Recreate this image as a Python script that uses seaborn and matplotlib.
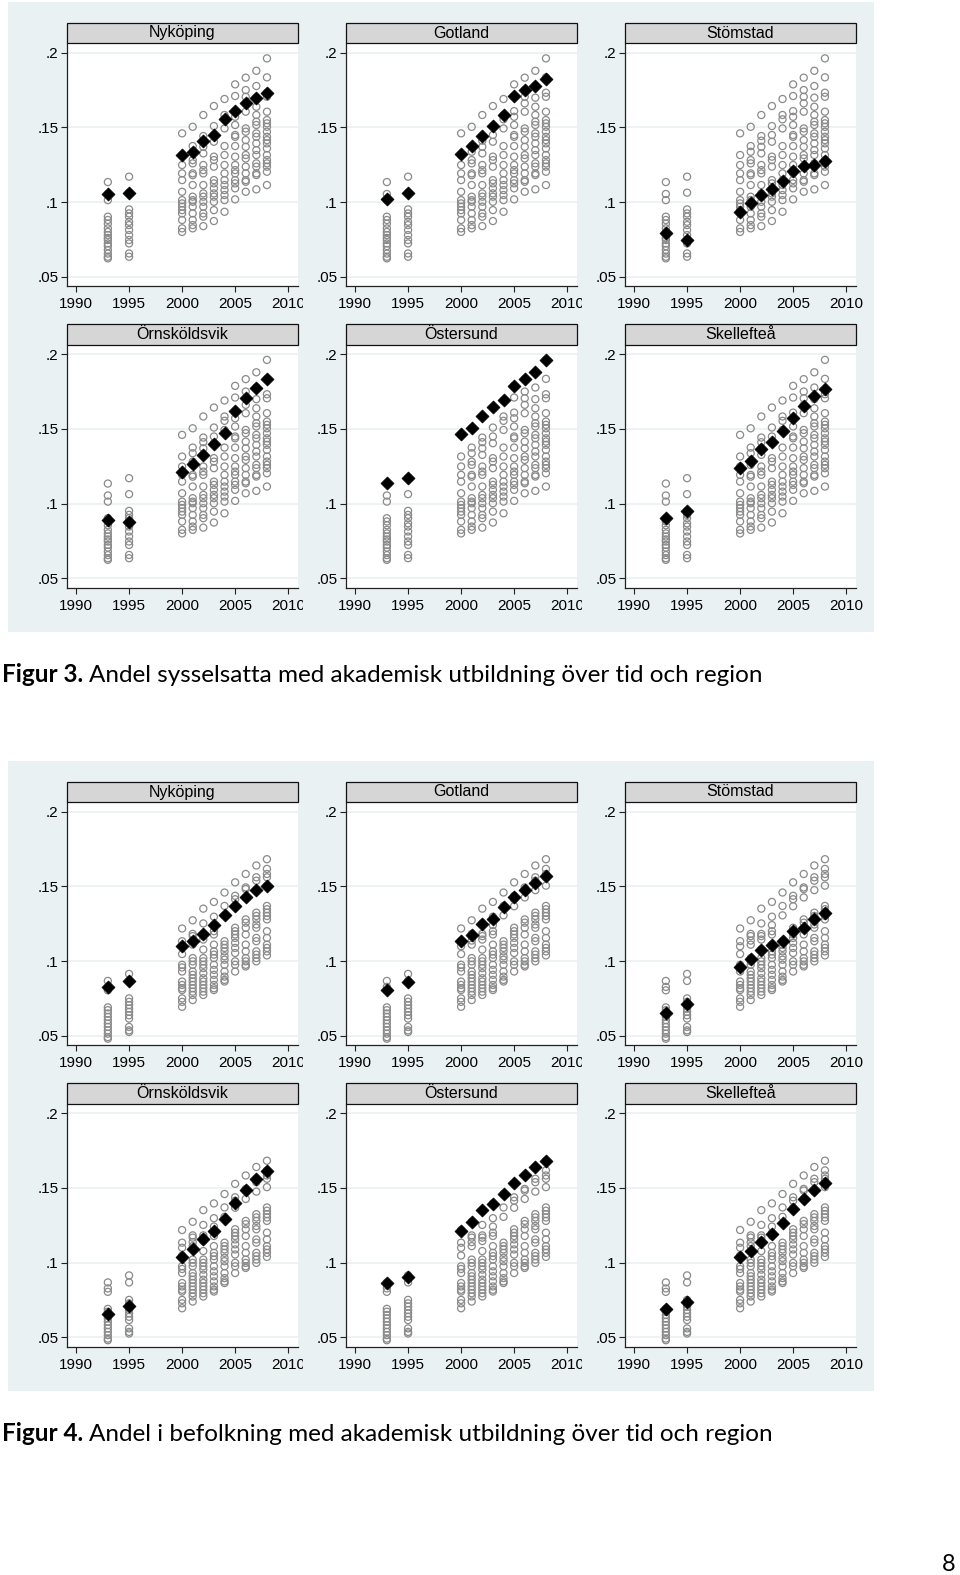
import matplotlib
matplotlib.use("Agg")
import matplotlib.pyplot as plt
import pandas as pd
import seaborn as sns
from matplotlib.patches import Rectangle
from matplotlib.ticker import FuncFormatter
from matplotlib.transforms import Bbox, TransformedBbox

plt.rcParams['font.family'] = ['Liberation Sans', 'DejaVu Sans']

years = [1993, 1995, 2000, 2001, 2002, 2003, 2004, 2005, 2006, 2007, 2008]
regions = ["Nyköping", "Gotland", "Stömstad", "Örnsköldsvik", "Östersund", "Skellefteå"]

# Figur 3: andel sysselsatta med akademisk utbildning, övriga regioner (cirklar)
sys_1993 = [0.1134, 0.1013, 0.0902, 0.0880, 0.0855, 0.0824, 0.0800, 0.0779, 0.0760, 0.0746,
            0.0723, 0.0705, 0.0679, 0.0655, 0.0634, 0.0623]
sys_1995 = [0.1170, 0.0951, 0.0924, 0.0902, 0.0868, 0.0846, 0.0813, 0.0779, 0.0746, 0.0723,
            0.0656, 0.0634]
sys_2000 = [0.1460, 0.1248, 0.1192, 0.1147, 0.1069, 0.1013, 0.0991, 0.0969, 0.0946, 0.0924,
            0.0880, 0.0824, 0.0800]
sys_2001 = [0.1504, 0.1375, 0.1281, 0.1259, 0.1192, 0.1180, 0.1114, 0.1036, 0.1013, 0.1002,
            0.0969, 0.0924, 0.0880, 0.0846, 0.0824]
sys_2002 = [0.1583, 0.1442, 0.1370, 0.1326, 0.1248, 0.1214, 0.1192, 0.1114, 0.1058, 0.1036,
            0.1002, 0.0969, 0.0924, 0.0902, 0.0839]
sys_2003 = [0.1643, 0.1509, 0.1404, 0.1304, 0.1281, 0.1237, 0.1147, 0.1125, 0.1092, 0.1058,
            0.1036, 0.1002, 0.0946, 0.0873]
sys_2004 = [0.1690, 0.1583, 0.1493, 0.1375, 0.1315, 0.1248, 0.1192, 0.1147, 0.1114, 0.1080,
            0.1047, 0.1013, 0.0935]
sys_2005 = [0.1788, 0.1710, 0.1571, 0.1516, 0.1449, 0.1437, 0.1375, 0.1304, 0.1248, 0.1214,
            0.1192, 0.1147, 0.1125, 0.1092, 0.1018]
sys_2006 = [0.1833, 0.1750, 0.1705, 0.1605, 0.1493, 0.1471, 0.1415, 0.1370, 0.1315, 0.1292,
            0.1237, 0.1192, 0.1147, 0.1136, 0.1069]
sys_2007 = [0.1879, 0.1777, 0.1638, 0.1583, 0.1538, 0.1516, 0.1460, 0.1437, 0.1393, 0.1348,
            0.1315, 0.1259, 0.1237, 0.1192, 0.1181, 0.1085]
sys_2008 = [0.1962, 0.1835, 0.1705, 0.1605, 0.1549, 0.1527, 0.1504, 0.1471, 0.1437, 0.1415,
            0.1393, 0.1359, 0.1315, 0.1281, 0.1259, 0.1237, 0.1203, 0.1114]

# Figur 3: markerade regioner (romber)
sys_nykoping = [0.1054, 0.1063, 0.1315, 0.1337, 0.1411, 0.1449, 0.1554, 0.1609, 0.1661, 0.1699, 0.1732]
sys_gotland = [0.1018, 0.1062, 0.1322, 0.1373, 0.1444, 0.1511, 0.1580, 0.1707, 0.1751, 0.1778, 0.1827]
sys_stomstad = [0.0791, 0.0747, 0.0936, 0.0991, 0.1047, 0.1089, 0.1140, 0.1207, 0.1244, 0.1249, 0.1278]
sys_ornskoldsvik = [0.0888, 0.0875, 0.1208, 0.1263, 0.1324, 0.1402, 0.1473, 0.1620, 0.1710, 0.1777, 0.1837]
sys_ostersund = [0.1141, 0.1170, 0.1464, 0.1504, 0.1587, 0.1645, 0.1692, 0.1788, 0.1833, 0.1884, 0.1964]
sys_skelleftea = [0.0906, 0.0949, 0.1241, 0.1286, 0.1364, 0.1413, 0.1487, 0.1576, 0.1654, 0.1717, 0.1766]

# Figur 4: andel i befolkningen med akademisk utbildning, övriga regioner (cirklar)
bef_1993 = [0.0867, 0.0804, 0.0690, 0.0671, 0.0649, 0.0626, 0.0604, 0.0581, 0.0559, 0.0536,
            0.0514, 0.0491, 0.0480]
bef_1995 = [0.0914, 0.0750, 0.0727, 0.0705, 0.0682, 0.0660, 0.0637, 0.0615, 0.0559, 0.0536, 0.0525]
bef_2000 = [0.1218, 0.1133, 0.1047, 0.0975, 0.0957, 0.0930, 0.0863, 0.0840, 0.0818, 0.0806,
            0.0750, 0.0727, 0.0694]
bef_2001 = [0.1273, 0.1182, 0.1167, 0.1110, 0.1020, 0.0998, 0.0975, 0.0930, 0.0908, 0.0885,
            0.0863, 0.0840, 0.0818, 0.0795, 0.0773, 0.0739]
bef_2002 = [0.1351, 0.1252, 0.1167, 0.1144, 0.1077, 0.1020, 0.0998, 0.0975, 0.0953, 0.0919,
            0.0885, 0.0863, 0.0840, 0.0818, 0.0795, 0.0773]
bef_2003 = [0.1396, 0.1297, 0.1200, 0.1178, 0.1110, 0.1065, 0.1043, 0.1020, 0.0975, 0.0941,
            0.0908, 0.0874, 0.0840, 0.0818, 0.0806]
bef_2004 = [0.1459, 0.1369, 0.1133, 0.1110, 0.1088, 0.1065, 0.1032, 0.1009, 0.0975, 0.0930,
            0.0896, 0.0874, 0.0863]
bef_2005 = [0.1527, 0.1437, 0.1414, 0.1223, 0.1200, 0.1178, 0.1155, 0.1122, 0.1088, 0.1054,
            0.0998, 0.0975, 0.0930]
bef_2006 = [0.1583, 0.1493, 0.1482, 0.1279, 0.1257, 0.1223, 0.1178, 0.1110, 0.1065, 0.1020,
            0.0998, 0.0975, 0.0964]
bef_2007 = [0.1640, 0.1561, 0.1538, 0.1324, 0.1302, 0.1279, 0.1245, 0.1223, 0.1155, 0.1133,
            0.1065, 0.1043, 0.1020, 0.0998]
bef_2008 = [0.1682, 0.1617, 0.1583, 0.1561, 0.1369, 0.1347, 0.1324, 0.1302, 0.1279, 0.1200,
            0.1155, 0.1110, 0.1088, 0.1065, 0.1038]

# Figur 4: markerade regioner (romber)
bef_nykoping = [0.0827, 0.0867, 0.1099, 0.1137, 0.1182, 0.1241, 0.1306, 0.1367, 0.1426, 0.1475, 0.1505]
bef_gotland = [0.0804, 0.0860, 0.1131, 0.1176, 0.1248, 0.1284, 0.1363, 0.1431, 0.1476, 0.1521, 0.1571]
bef_stomstad = [0.0652, 0.0713, 0.0962, 0.1014, 0.1074, 0.1108, 0.1131, 0.1199, 0.1221, 0.1284, 0.1323]
bef_ornskoldsvik = [0.0657, 0.0709, 0.1039, 0.1093, 0.1159, 0.1211, 0.1295, 0.1402, 0.1489, 0.1561, 0.1611]
bef_ostersund = [0.0861, 0.0902, 0.1214, 0.1270, 0.1350, 0.1395, 0.1459, 0.1530, 0.1589, 0.1641, 0.1682]
bef_skelleftea = [0.0686, 0.0739, 0.1034, 0.1075, 0.1136, 0.1189, 0.1266, 0.1357, 0.1425, 0.1489, 0.1530]

W, H = 960, 1575
BG = '#EAF1F3'


def fx(x):
    return x / W


def fy(y):
    return 1 - y / H


def long_frame(columns):
    rows = []
    for year, values in zip(years, columns):
        for v in values:
            rows.append((year, v))
    return pd.DataFrame(rows, columns=['year', 'value'])


def draw_block(fig, top, others, highlights):
    # light blue graph region behind the six panels
    fig.add_artist(Rectangle((fx(8), fy(top + 630)), 866 / W, 630 / H,
                             transform=fig.transFigure, fc=BG, ec='none', zorder=0))
    # all regions = the others + the first highlighted one (hidden under its diamond)
    background = pd.concat([long_frame(others),
                            pd.DataFrame({'year': years, 'value': highlights[0]})])
    for i, (name, series) in enumerate(zip(regions, highlights)):
        r, c = divmod(i, 3)
        x0 = 66.7 + 279 * c
        x1 = x0 + 231
        yt = top + 41.3 + 301.5 * r
        yb = top + 284 + 301.5 * r
        ax = fig.add_axes([fx(x0), fy(yb), (x1 - x0) / W, (yb - yt) / H])
        ax.set_facecolor('white')

        sns.scatterplot(data=background, x='year', y='value', ax=ax, marker='o', s=26,
                        facecolor='none', edgecolor='#8a8a8a', linewidth=0.9,
                        legend=False, zorder=2)
        hl = pd.DataFrame({'year': years, 'value': series})
        sns.scatterplot(data=hl, x='year', y='value', ax=ax, marker='D', s=44,
                        color='black', edgecolor='black', linewidth=0.5,
                        legend=False, zorder=3)

        ax.set_xlim(1989.12, 2010.9)
        ax.set_ylim(0.0438, 0.2063)
        ax.set_xticks([1990, 1995, 2000, 2005, 2010])
        ax.set_yticks([0.05, 0.1, 0.15, 0.2])
        ax.yaxis.set_major_formatter(FuncFormatter(lambda v, p: f"{v:g}".lstrip('0')))
        ax.set_xlabel('')
        ax.set_ylabel('')
        ax.yaxis.grid(True, color=BG, lw=1.2)
        ax.set_axisbelow(True)
        for s in ['top', 'right']:
            ax.spines[s].set_visible(False)
        for s in ['left', 'bottom']:
            ax.spines[s].set_color('#222222')
            ax.spines[s].set_linewidth(0.9)
        ax.tick_params(direction='out', length=4, width=0.8, labelsize=11, pad=2,
                       color='#222222')
        ax.tick_params(axis='x', pad=4)

        # the "2010" label is cut by the neighbouring panel
        if c < 2:
            clip = TransformedBbox(Bbox.from_extents(0, 0, fx(x1 + 5), 1), fig.transFigure)
            for lab in ax.get_xticklabels():
                lab.set_clip_on(True)
                lab.set_clip_box(clip)

        # grey title strip
        fig.add_artist(Rectangle((fx(x0), fy(yt)), (x1 - x0) / W, 20.6 / H,
                                 transform=fig.transFigure, fc='#D6D6D6', ec='#111111',
                                 lw=0.9, zorder=5))
        fig.text(fx((x0 + x1) / 2), fy(yt - 10.3), name, ha='center', va='center',
                 fontsize=11.5, zorder=6)


def caption(fig, y, label, rest):
    t = fig.text(fx(2), fy(y), label, fontsize=17.5, fontweight='bold', family='Lato',
                 va='baseline')
    fig.canvas.draw()
    bb = t.get_window_extent()
    fig.text(bb.x1 / W + fx(6), fy(y), rest, fontsize=17.5, family='Lato', va='baseline')


fig = plt.figure(figsize=(9.6, 15.75), dpi=100)

sys_cols = [sys_1993, sys_1995, sys_2000, sys_2001, sys_2002, sys_2003, sys_2004,
            sys_2005, sys_2006, sys_2007, sys_2008]
sys_hl = [sys_nykoping, sys_gotland, sys_stomstad, sys_ornskoldsvik, sys_ostersund, sys_skelleftea]
bef_cols = [bef_1993, bef_1995, bef_2000, bef_2001, bef_2002, bef_2003, bef_2004,
            bef_2005, bef_2006, bef_2007, bef_2008]
bef_hl = [bef_nykoping, bef_gotland, bef_stomstad, bef_ornskoldsvik, bef_ostersund, bef_skelleftea]

draw_block(fig, 2, sys_cols, sys_hl)
draw_block(fig, 761, bef_cols, bef_hl)

caption(fig, 682, "Figur 3.", "Andel sysselsatta med akademisk utbildning över tid och region")
caption(fig, 1441, "Figur 4.", "Andel i befolkning med akademisk utbildning över tid och region")
fig.text(fx(949), fy(1571), "8", fontsize=17, family='Lato', ha='center', va='baseline')

fig.savefig('out.png', dpi=100)
